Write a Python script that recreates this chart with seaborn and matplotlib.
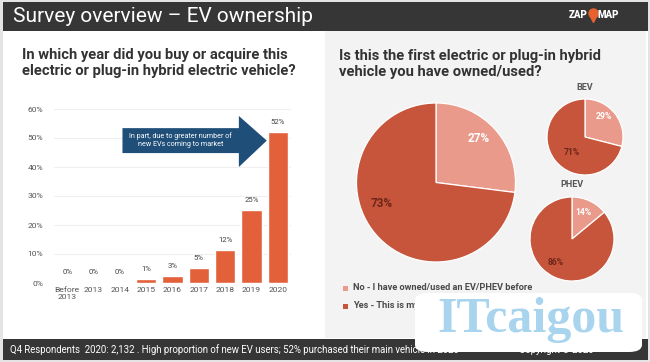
import matplotlib
matplotlib.use('Agg')
import matplotlib.pyplot as plt
import seaborn as sns
from matplotlib.patches import Rectangle, Polygon, FancyBboxPatch
from matplotlib.lines import Line2D

# --- data ---
years = ['Before\n2013', '2013', '2014', '2015', '2016', '2017', '2018', '2019', '2020']
share = [0.2, 0.2, 0.35, 1.3, 2.5, 5.3, 11.4, 25.1, 52.1]
share_labels = ['0%', '0%', '0%', '1%', '3%', '5%', '12%', '25%', '52%']
y_ticks = [0, 10, 20, 30, 40, 50, 60]

answers = ['No - I have owned/used an EV/PHEV before', 'Yes - This is my first EV/PHEV']
all_split = [27, 73]
bev_split = [29, 71]
phev_split = [14, 86]

sns.set_theme(style='white')
plt.rcParams['font.family'] = ['Roboto', 'DejaVu Sans']

W, H = 650, 362
BAR = '#E2603A'
LIGHT = '#EA9A8B'
DARK = '#C7553C'
NAVY = '#1F4E79'
BAND = '#363636'


def box(x0, y0, x1, y1):
    # pixel box (y from top) -> figure fraction rect
    return [x0 / W, 1 - y1 / H, (x1 - x0) / W, (y1 - y0) / H]


def rect(x0, y0, x1, y1, color):
    fig.add_artist(Rectangle((x0 / W, 1 - y1 / H), (x1 - x0) / W, (y1 - y0) / H,
                             transform=fig.transFigure, color=color, lw=0, zorder=0))


def ftext(x, y, s, **kw):
    fig.text(x / W, 1 - y / H, s, **kw)


fig = plt.figure(figsize=(W / 100, H / 100), dpi=100)
fig.patch.set_facecolor('#e4e4e4')
rect(3, 2, 648, 360, 'white')
rect(3, 2, 648, 31, BAND)
rect(325, 31, 646, 338, '#f3f3f3')
rect(3, 339, 648, 360, BAND)

# header
ftext(13, 16, 'Survey overview \u2013 EV ownership', color='white', fontsize=15, va='center')
ftext(588, 15, 'ZAP', color='white', fontsize=7, fontweight='black', ha='right', va='center')
ftext(598, 15, 'MAP', color='white', fontsize=7, fontweight='black', ha='left', va='center')
fig.add_artist(Line2D([593 / W], [1 - 13 / H], marker='o', markersize=6.5, color='#E8622E',
                      transform=fig.transFigure))
fig.add_artist(Line2D([593 / W], [1 - 17.5 / H], marker='v', markersize=5.5, color='#E8622E',
                      transform=fig.transFigure))

# footer
ftext(10, 350, 'Q4 Respondents  2020: 2,132 . High proportion of new EV users; 52% purchased their main vehicle in 2020',
      color='white', fontsize=6.9, va='center')
ftext(519, 350, 'Copyright \u00a9 2020', color='white', fontsize=6.9, va='center')

# left panel: year of purchase
ftext(22, 63, 'In which year did you buy or acquire this\nelectric or plug-in hybrid electric vehicle?',
      color='#333333', fontsize=10.6, fontweight='bold', va='center', linespacing=1.1)

ax = fig.add_axes(box(54, 109, 291, 283))
sns.barplot(x=years, y=share, color=BAR, width=0.76, saturation=1, ax=ax)
ax.bar_label(ax.containers[0], labels=share_labels, padding=5, fontsize=5.6, color='#444444')
ax.set_ylim(0, 60)
ax.set_yticks(y_ticks)
ax.set_yticklabels([f'{t}%' for t in y_ticks])
ax.grid(axis='y', color='#efefef', lw=0.8)
ax.set_axisbelow(True)
ax.tick_params(axis='both', labelsize=6.1, labelcolor='#555555', length=0, pad=3)
ax.tick_params(axis='y', pad=8)
for s in ax.spines.values():
    s.set_visible(False)
ax.set_xlim(-0.5, len(years) - 0.5)
ax.set_facecolor('white')

# arrow annotation
arrow = Polygon([(2.1, 44.8), (6.52, 44.8), (6.52, 40.0), (7.58, 49.1),
                 (6.52, 57.6), (6.52, 53.4), (2.1, 53.4)], closed=True,
                color=NAVY, lw=0, zorder=3)
ax.add_patch(arrow)
ax.text(4.3, 49.3, 'In part, due to greater number of\nnew EVs coming to market', color='white',
        fontsize=5.1, ha='center', va='center', zorder=4, linespacing=1.2)

# right panel: first EV?
ftext(339, 64, 'Is this the first electric or plug-in hybrid\nvehicle you have owned/used?',
      color='#333333', fontsize=10.6, fontweight='bold', va='center', linespacing=1.1)


def draw_pie(cx, cy, r, vals, pos, size, title=None):
    pax = fig.add_axes(box(cx - r, cy - r, cx + r, cy + r))
    pax.pie(vals, colors=[LIGHT, DARK], startangle=90, counterclock=False, radius=1,
            wedgeprops=dict(edgecolor='white', linewidth=0.9))
    pax.set_xlim(-1.0, 1.0)
    pax.set_ylim(-1.0, 1.0)
    pax.text(*pos[0], f'{vals[0]}%', color='white', fontsize=size, fontweight='bold',
             ha='center', va='center')
    pax.text(*pos[1], f'{vals[1]}%', color='#6e2618', fontsize=size, fontweight='bold',
             ha='center', va='center')
    if title:
        pax.text(0, 1.3, title, color='#555555', fontsize=6.5, fontweight='bold',
                 ha='center', va='center')


draw_pie(436, 182.5, 79.5, all_split, [(0.54, 0.55), (-0.68, -0.27)], 8.5)
draw_pie(585, 137, 38, bev_split, [(0.5, 0.55), (-0.34, -0.42)], 6.2, 'BEV')
draw_pie(572, 239, 42, phev_split, [(0.26, 0.64), (-0.4, -0.57)], 6.2, 'PHEV')

# legend
for i, (lab, col) in enumerate(zip(answers, [LIGHT, DARK])):
    yy = 288 + 18 * i
    rect(343, yy - 2.5, 348, yy + 2.5, col)
    ftext(353, yy, lab, color='#4a4a4a', fontsize=6.7, fontweight='bold', va='center')

# watermark
fig.add_artist(FancyBboxPatch((415 / W, 1 - 352 / H), 227 / W, 59 / H,
                              boxstyle='round,pad=0,rounding_size=0.02',
                              transform=fig.transFigure, facecolor='white', edgecolor='none',
                              zorder=5))
ftext(531, 320, 'ITcaigou', color='#a9d4ee', fontsize=36, fontweight='bold',
      family=['Liberation Serif', 'DejaVu Serif'], ha='center', va='center', zorder=6)

fig.savefig('out.png', dpi=100, facecolor=fig.get_facecolor())
